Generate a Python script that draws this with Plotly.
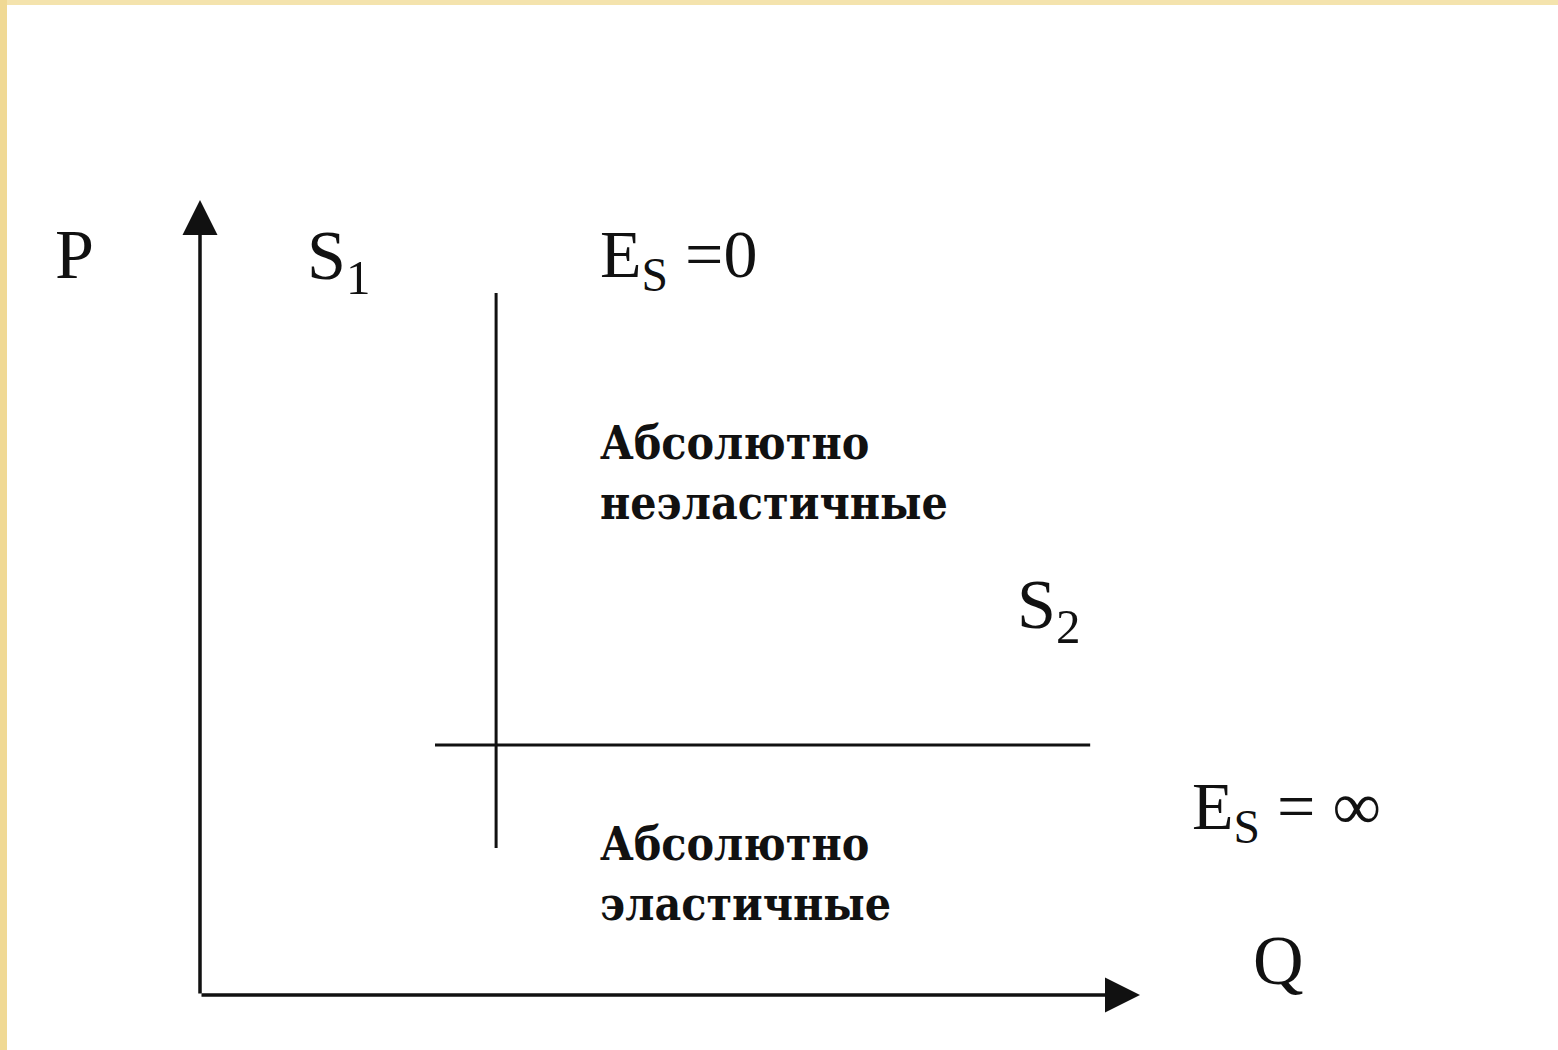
import plotly.graph_objects as go

# схема: абсолютно неэластичное (S1) и абсолютно эластичное (S2) предложение
S1_Q = [3.15, 3.15]
S1_P = [1.85, 8.83]
S2_Q = [2.5, 9.47]
S2_P = [3.145, 3.145]

AXIS_Q_MAX = 10.0
AXIS_P_MAX = 10.0

LABELS = ['P', 'S<sub>1</sub>', 'E<sub>S</sub> =0',
          'Абсолютно<br>неэластичные', 'S<sub>2</sub>',
          'E<sub>S</sub> = ∞', 'Абсолютно<br>эластичные', 'Q']
LABEL_Q = [-1.33, 1.12, 4.23, 4.23, 8.67, 10.53, 4.23, 11.47]
LABEL_P = [9.31, 9.23, 9.27, 6.56, 4.84, 2.32, 1.52, 0.44]

INK = '#111111'
serif = 'Liberation Serif'
slab = 'DejaVu Serif Condensed, DejaVu Serif'
fonts = [serif, serif, serif, slab, serif, serif, slab, serif]
sizes = [70, 70, 68, 46, 70, 68, 46, 70]
anchors = ['center', 'left', 'left', 'left', 'left', 'left', 'left', 'center']

fig = go.Figure()
fig.add_trace(go.Scatter(x=S1_Q, y=S1_P, mode='lines',
                         line=dict(color=INK, width=3), hoverinfo='skip'))
fig.add_trace(go.Scatter(x=S2_Q, y=S2_P, mode='lines',
                         line=dict(color=INK, width=3), hoverinfo='skip'))

# оси со стрелками
fig.add_annotation(x=AXIS_Q_MAX, y=0, ax=0, ay=0, xref='x', yref='y',
                   axref='x', ayref='y', text='', showarrow=True,
                   arrowhead=2, arrowsize=2.0, arrowwidth=3.5, arrowcolor=INK)
fig.add_annotation(x=0, y=AXIS_P_MAX, ax=0, ay=0, xref='x', yref='y',
                   axref='x', ayref='y', text='', showarrow=True,
                   arrowhead=2, arrowsize=2.0, arrowwidth=3.5, arrowcolor=INK)

for txt, q, p, fnt, sz, anc in zip(LABELS, LABEL_Q, LABEL_P, fonts, sizes, anchors):
    fig.add_annotation(x=q, y=p, text=txt, showarrow=False,
                       xanchor=anc, yanchor='middle', align='left',
                       font=dict(family=fnt, size=sz, color=INK,
                                 weight='bold' if fnt == slab else 'normal'))

# жёлтая рамка слайда сверху и слева
fig.add_shape(type='rect', xref='paper', yref='paper', x0=0, x1=1,
              y0=1 - 5 / 1050, y1=1, fillcolor='#f4e3ad', line_width=0, layer='below')
fig.add_shape(type='rect', xref='paper', yref='paper', x0=0, x1=7 / 1558,
              y0=0, y1=1, fillcolor='#f0d994', line_width=0, layer='below')

fig.update_layout(
    width=1558, height=1050,
    margin=dict(l=0, r=0, t=0, b=0),
    paper_bgcolor='white', plot_bgcolor='white',
    showlegend=False,
    xaxis=dict(range=[-200 / 94, 1358 / 94], visible=False, fixedrange=True),
    yaxis=dict(range=[-55 / 79.5, 995 / 79.5], visible=False, fixedrange=True),
)
fig.write_html('out.html', config={'displayModeBar': False},
               post_script="document.body.style.margin='0';")
